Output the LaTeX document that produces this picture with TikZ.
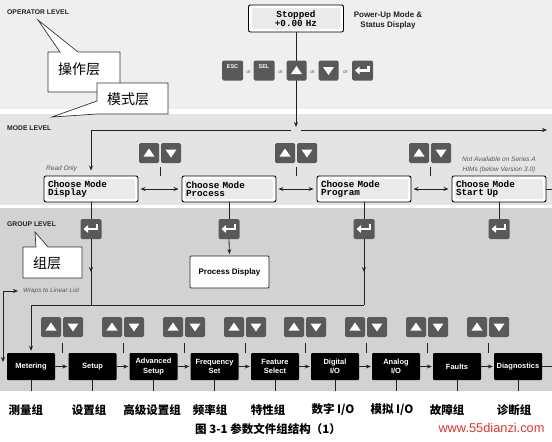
\documentclass[tikz,border=0pt]{standalone}
\usepackage{fontspec}
\setmainfont{Liberation Sans}
\setmonofont{Liberation Mono}
\newfontfamily\cjk{Noto Sans CJK SC}
\usetikzlibrary{arrows.meta,calc,decorations.markings}

\definecolor{opband}{HTML}{EFEFEF}
\definecolor{modeband}{HTML}{E4E4E4}
\definecolor{grpband}{HTML}{D2D2D2}
\definecolor{keygray}{HTML}{595959}
\definecolor{lcdin}{HTML}{EAEAEA}
\definecolor{linec}{HTML}{222222}
\definecolor{notegray}{HTML}{555555}
\definecolor{wmred}{HTML}{E3342F}

\tikzset{
  keybox/.style={fill=keygray, rounded corners=1.5pt, minimum width=20pt, minimum height=20pt, inner sep=0pt},
  lcdbox/.style={draw=black, line width=0.9pt, rounded corners=2pt, fill=white,
    minimum width=94pt, minimum height=26pt, inner xsep=4pt, inner ysep=0pt,
    text width=86pt, align=left, font=\fontsize{9.3}{8}\selectfont\ttfamily\bfseries,
    path picture={\fill[lcdin] ($(path picture bounding box.south west)+(3,-3)$) rectangle ($(path picture bounding box.north east)+(-3,3)$);}},
  grpbox/.style={fill=black, rounded corners=1pt, minimum width=48pt, minimum height=27pt,
    inner sep=1pt, text=white, align=center, font=\fontsize{7.5}{9.5}\selectfont\bfseries},
  lvl/.style={anchor=west, font=\fontsize{6.8}{8}\selectfont\bfseries, text=linec, inner sep=0pt},
  note/.style={font=\fontsize{6.5}{9.5}\selectfont\itshape, text=notegray, inner sep=0pt, align=center},
  ortext/.style={font=\fontsize{5}{5}\selectfont\itshape, text=notegray, inner sep=0pt},
  keytext/.style={font=\fontsize{5.5}{6}\selectfont\bfseries, text=white, inner sep=0pt},
  conn/.style={draw=linec, line width=0.8pt},
  arr/.style={conn, -{Stealth[length=5pt,width=4pt]}},
  dbl/.style={conn, {Stealth[length=5pt,width=4pt]}-{Stealth[length=5pt,width=4pt]}},
  midarr/.style={conn, decoration={markings, mark=at position 0.5 with {\arrow{Stealth[length=5pt,width=4pt]}}}, postaction={decorate}},
  callout/.style={draw=black!80, line width=0.7pt, fill=white},
  cjklabel/.style={font=\cjk\fontsize{14}{14}\selectfont, inner sep=0pt},
  grplabel/.style={font=\cjk\bfseries\fontsize{11.5}{12}\selectfont, inner sep=0pt},
}

\newcommand\UpKey[2]{\node[keybox] (#1) at (#2) {};
  \fill[white] ($(#1.center)+(0,-4.5)$) -- ($(#1.center)+(5.5,3.5)$) -- ($(#1.center)+(-5.5,3.5)$) -- cycle;}
\newcommand\DnKey[2]{\node[keybox] (#1) at (#2) {};
  \fill[white] ($(#1.center)+(0,4.5)$) -- ($(#1.center)+(5.5,-3.5)$) -- ($(#1.center)+(-5.5,-3.5)$) -- cycle;}
\newcommand\EntKey[2]{\node[keybox, minimum width=21pt] (#1) at (#2) {};
  \draw[white, line width=2.6pt, -{Triangle[length=4.5pt,width=7.5pt]}] ($(#1.center)+(6,-5)$) -- ($(#1.center)+(6,0)$) -- ($(#1.center)+(-7.5,0)$);}
\newcommand\KeyPair[3]{\UpKey{#1u}{#2-11,#3}\DnKey{#1d}{#2+11,#3}}

\begin{document}
\begin{tikzpicture}[x=1pt, y=-1pt]
\useasboundingbox (0,0) rectangle (552,442);
\fill[white] (0,0) rectangle (552,442);
% bands
\fill[opband] (0,0) rectangle (552,109);
\fill[modeband] (0,114) rectangle (552,205);
\fill[grpband] (0,208) rectangle (552,391);

% level labels
\node[lvl] (lop) at (7,12) {OPERATOR LEVEL};
\node[lvl] (lmd) at (7,128) {MODE LEVEL};
\node[lvl] (lgr) at (7,224) {GROUP LEVEL};

% callouts
\draw[callout] (48,52) -- (60,52) -- (38,20) -- (78,52) -- (120,52) -- (120,92) -- (48,92) -- cycle;
\node[cjklabel] (cop) at (79,69) {操作层};
\draw[callout] (97,83) -- (168,83) -- (168,114) -- (97,114) -- (52,117) -- (97,101) -- cycle;
\node[cjklabel] (cmd) at (128,99) {模式层};
\draw[callout] (23,247) -- (36,247) -- (35,232) -- (48,247) -- (82,247) -- (82,278) -- (23,278) -- cycle;
\node[cjklabel] (cgr) at (47,263) {组层};

% operator level
\node[lcdbox, minimum width=95pt, minimum height=27pt, text width=87pt, align=center] (disp) at (296,18.5) {Stopped\\+0.00 Hz};
\node[font=\fontsize{8}{10}\selectfont\bfseries, align=center, text=linec] (pu) at (388,20) {Power-Up Mode \&\\Status Display};
\coordinate (opin) at (296,127);
\draw[arr] (disp.south) -- (opin);
\node[keybox, minimum width=21pt] (kesc) at (232.5,70.5) {};
\node[keytext] (tesc) at ($(kesc.center)+(0,-4)$) {ESC};
\node[keybox, minimum width=21pt] (ksel) at (264,70.5) {};
\node[keytext] (tsel) at ($(ksel.center)+(0,-4)$) {SEL};
\UpKey{kup}{296.5,70.5}
\DnKey{kdn}{328.5,70.5}
\EntKey{kent}{362.5,70.5}
\node[ortext] at (248.5,72) {or};
\node[ortext] at (280.5,72) {or};
\node[ortext] at (312.5,72) {or};
\node[ortext] at (345.5,72) {or};

% mode level
\node[lcdbox] (m1) at (91,189) {Choose Mode\\Display};
\node[lcdbox] (m2) at (229,189) {Choose Mode\\Process};
\node[lcdbox] (m3) at (364,189) {Choose Mode\\Program};
\node[lcdbox] (m4) at (499,189) {Choose Mode\\Start Up};
\node[note, anchor=west] (ro) at (46,169) {Read Only};
\node[note] (na) at (499,165) {Not Available on Series A\\HIMs (below Version 3.0)};
\coordinate (mtl) at (91,130);
\coordinate (mgl) at (291,130);
\coordinate (mgr) at (301,130);
\coordinate (mend) at (547,130);
\coordinate (mright) at (552,189);
\draw[arr, shorten >=5pt] (mgl) -- (mtl) -- (m1.north);
\draw[arr] (mgr) -- (mend);
\draw[dbl, shorten <=2pt, shorten >=3pt] (m1.east) -- (m2.west);
\draw[dbl, shorten <=2pt, shorten >=3pt] (m2.east) -- (m3.west);
\draw[dbl, shorten <=2pt, shorten >=3pt] (m3.east) -- (m4.west);
\draw[conn] (m4.east) -- (mright);
\KeyPair{mp1}{160}{153}
\KeyPair{mp2}{296}{153}
\KeyPair{mp3}{430}{153}
\foreach \x in {160,296,430} \draw[conn] (\x,167) -- (\x,176);

% group level: enter keys
\EntKey{e1}{91,229}
\EntKey{e2}{229,229}
\EntKey{e3}{364,229}
\EntKey{e4}{499,229}
\draw[conn] (m1.south) -- (e1.north);
\draw[conn] (m2.south) -- (e2.north);
\draw[conn] (m3.south) -- (e3.north);
\draw[conn] (m4.south) -- (e4.north);
\node[draw=black!85, line width=0.8pt, fill=white, rounded corners=1pt, minimum width=79pt, minimum height=32pt, font=\fontsize{8}{9}\selectfont\bfseries] (pd) at (229.5,272) {Process Display};
\draw[arr, shorten >=1.5pt] (e2.south) -- (pd.north);

% group boxes
\node[grpbox] (g1) at (31,366.5) {Metering};
\node[grpbox] (g2) at (92.5,366.5) {Setup};
\node[grpbox] (g3) at (153.5,366.5) {Advanced\\Setup};
\node[grpbox] (g4) at (214.5,366.5) {Frequency\\Set};
\node[grpbox] (g5) at (275,366.5) {Feature\\Select};
\node[grpbox] (g6) at (335,366.5) {Digital\\I/O};
\node[grpbox] (g7) at (396,366.5) {Analog\\I/O};
\node[grpbox] (g8) at (457,366.5) {Faults};
\node[grpbox] (g9) at (518,366.5) {Diagnostics};

\coordinate (j1) at (91,305);
\coordinate (j3) at (364,305);
\coordinate (j0) at (31,305);
\draw[midarr] (e1.south) -- (j1);
\draw[midarr] (e3.south) -- (j3);
\draw[arr, shorten >=2pt] (j3) -- (j0) -- (g1.north);

% wrap
\node[note, anchor=west, font=\fontsize{6.3}{8}\selectfont\itshape] (wrap) at (23,291) {Wraps to Linear List};
\coordinate (wb) at (3,362);
\coordinate (wc) at (3,291);
\draw[dbl, shorten >=5pt] (wb) -- (wc) -- (wrap.west);

\foreach \a/\b in {g1/g2,g2/g3,g3/g4,g4/g5,g5/g6,g6/g7,g7/g8,g8/g9}
  \draw[arr, shorten >=1pt] (\a.east) -- (\b.west);
\coordinate (gright) at (552,366.5);
\draw[conn] (g9.east) -- (gright);
\foreach \g in {g1,g2,g3,g4,g5,g6,g7,g8,g9}
  \draw[conn] (\g.south) -- ++(0,11);

\KeyPair{gp1}{62}{327}
\KeyPair{gp2}{123}{327}
\KeyPair{gp3}{184}{327}
\KeyPair{gp4}{245}{327}
\KeyPair{gp5}{305}{327}
\KeyPair{gp6}{366}{327}
\KeyPair{gp7}{427}{327}
\KeyPair{gp8}{488}{327}
\foreach \x in {62,123,184,245,305,366,427,488} \draw[conn] (\x,343) -- (\x,353);

% chinese labels
\node[grplabel] (t1) at (26,410) {测量组};
\node[grplabel] (t2) at (89,410) {设置组};
\node[grplabel] (t3) at (152,410) {高级设置组};
\node[grplabel] (t4) at (210,410) {频率组};
\node[grplabel] (t5) at (268,410) {特性组};
\node[grplabel] (t6) at (333,410) {数字 I/O};
\node[grplabel] (t7) at (392,410) {模拟 I/O};
\node[grplabel] (t8) at (447,410) {故障组};
\node[grplabel] (t9) at (514,410) {诊断组};

\node[font=\cjk\bfseries\fontsize{11.5}{12}\selectfont, inner sep=0pt] (cap) at (268,429) {图 3-1 参数文件组结构（1）};
\node[font=\fontsize{12.8}{13}\selectfont, text=wmred, inner sep=0pt] (wm) at (491.5,428) {www.55dianzi.com};
\end{tikzpicture}
\end{document}
